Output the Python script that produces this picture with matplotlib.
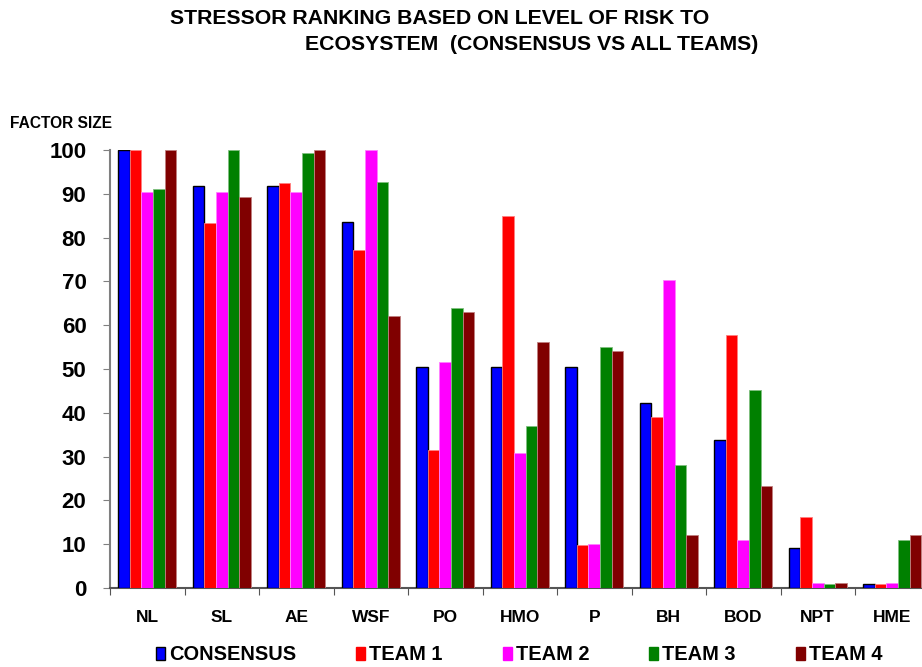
import matplotlib
matplotlib.use("Agg")
import matplotlib.pyplot as plt
import numpy as np
from matplotlib.patches import Patch

plt.rcParams['font.family'] = ['Liberation Sans', 'DejaVu Sans']
plt.rcParams['font.weight'] = 'bold'

categories = ["NL", "SL", "AE", "WSF", "PO", "HMO", "P", "BH", "BOD", "NPT", "HME"]
series_names = ["CONSENSUS", "TEAM 1", "TEAM 2", "TEAM 3", "TEAM 4"]
consensus = [100, 91.8, 91.8, 83.6, 50.4, 50.4, 50.4, 42.2, 33.9, 9.1, 1.0]
team1 = [100, 83.4, 92.5, 77.2, 31.4, 84.9, 9.9, 39.1, 57.8, 16.1, 0.9]
team2 = [90.3, 90.3, 90.3, 100, 51.6, 30.8, 10.0, 70.4, 11.0, 1.1, 1.1]
team3 = [91.1, 100, 99.4, 92.8, 64.0, 37.0, 55.1, 28.1, 45.2, 1.0, 10.9]
team4 = [100, 89.2, 100, 62.1, 63.1, 56.1, 54.1, 12.2, 23.2, 1.1, 12.2]
yticks = [0, 10, 20, 30, 40, 50, 60, 70, 80, 90, 100]

colors = ["#0000FF", "#FF0000", "#FF00FF", "#008000", "#800000"]
edges = ["#000000", "#FF8080", "#FF80FF", "#80C080", "#C08080"]

fig = plt.figure(figsize=(9.22, 6.67), dpi=100)
ax = fig.add_axes([110/922, 1-588/667, (929.5-110)/922, 438/667])

x = np.arange(len(categories))
bw = 0.157
data = [consensus, team1, team2, team3, team4]
for i, vals in enumerate(data):
    ax.bar(x + (i - 2) * bw, vals, width=bw, color=colors[i],
           edgecolor=edges[i], linewidth=1.0 if i == 0 else 0.6, zorder=3)

ax.set_xlim(-0.5, len(categories) - 0.5)
ax.set_ylim(0, 100)
ax.set_yticks(yticks)
ax.set_yticklabels([str(v) for v in yticks], fontsize=16, fontweight='bold')
ax.set_xticks(np.arange(len(categories) + 1) - 0.5, minor=False)
ax.set_xticklabels([])
ax.set_xticks(x, minor=True)
ax.set_xticklabels(categories, minor=True, fontsize=12.5, fontweight='bold')
ax.tick_params(axis='x', which='minor', length=0, pad=16)
ax.tick_params(axis='x', which='major', length=5, direction='out', color='#555555')
ax.tick_params(axis='y', length=5, direction='out', color='#808080', pad=12)
for s in ['top', 'right']:
    ax.spines[s].set_visible(False)
ax.spines['left'].set_color('#808080')
ax.spines['left'].set_linewidth(1.5)
ax.spines['bottom'].set_color('#555555')
ax.spines['bottom'].set_linewidth(1.5)

fig.text(10/922, 1-124/667, "FACTOR SIZE", fontsize=11.2, fontweight='bold', va='center', ha='left')
fig.text(170/922, 1-19/667, "STRESSOR RANKING BASED ON LEVEL OF RISK TO", fontsize=15.3,
         fontweight='bold', va='center', ha='left')
fig.text(305/922, 1-44/667, "ECOSYSTEM  (CONSENSUS VS ALL TEAMS)", fontsize=15.3,
         fontweight='bold', va='center', ha='left')

handles = [Patch(facecolor=colors[i], edgecolor=colors[i] if i else 'black', label=series_names[i]) for i in range(5)]
leg = fig.legend(handles=handles, loc='center', bbox_to_anchor=(519/922, 1-655/667), ncol=5,
                 frameon=False, prop={'size': 14.4, 'weight': 'bold'}, handlelength=0.45,
                 handleheight=0.6, handletextpad=0.2, columnspacing=3.0)

fig.savefig("out.png", dpi=100)
